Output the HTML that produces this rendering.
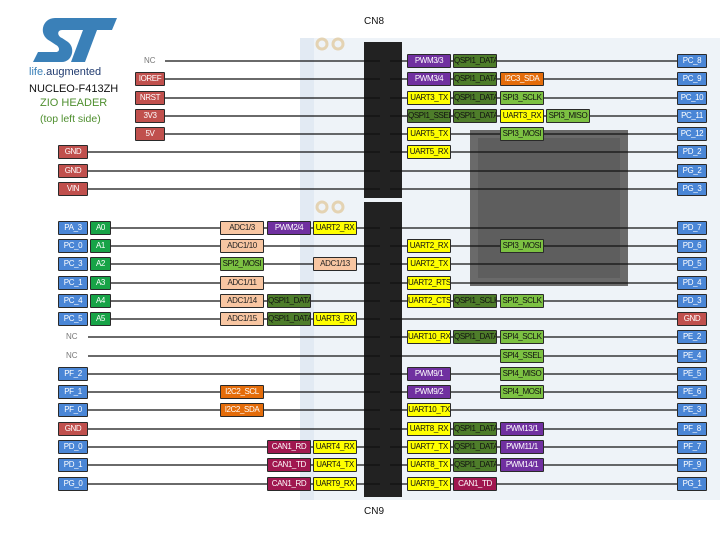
<!DOCTYPE html>
<html><head><meta charset="utf-8"><style>
body{margin:0;width:720px;height:540px;background:#fff;position:relative;overflow:hidden;font-family:"Liberation Sans",sans-serif}
.b{position:absolute;height:12px;border:1px solid #2a2a2a;font:8px/12px "Liberation Sans",sans-serif;letter-spacing:-0.4px;text-align:center;color:#fff;white-space:nowrap;overflow:hidden;border-radius:1px}
.bl{background:#4a86d6}.rd{background:#c0504d}.pu{background:#7030a0}.dg{background:#4e7d2a;color:#111}.lg{background:#7cc142;color:#111}
.ye{background:#ffff00;color:#111}.or{background:#e46c0a}.pe{background:#f8c6a2;color:#222}.ma{background:#a0174f}.gr{background:#17a347}
.t{position:absolute;font-size:8px;color:#777}
.p{width:28px}.w{width:42px}.a{width:19px}
</style></head><body>
<svg width="720" height="540" style="position:absolute;left:0;top:0">
<rect x="300" y="38" width="420" height="462" fill="#eef3f8"/>
<rect x="300" y="38" width="14" height="462" fill="#e2eaf3"/>
<g fill="none" stroke="#e4d3b3" stroke-width="3">
<circle cx="322" cy="44" r="5"/><circle cx="338" cy="44" r="5"/>
<circle cx="322" cy="207" r="5"/><circle cx="338" cy="207" r="5"/>
</g>
<rect x="470" y="130" width="158" height="156" fill="#6a6a6a"/>
<rect x="478" y="138" width="142" height="140" fill="#5e5e5e"/>
<rect x="364" y="42" width="38" height="156" fill="#222"/>
<rect x="364" y="202" width="38" height="295" fill="#222"/>
<g stroke="#111" stroke-width="1.3">
<line x1="165" y1="61" x2="380" y2="61"/><line x1="164" y1="79" x2="380" y2="79"/><line x1="164" y1="98" x2="380" y2="98"/><line x1="164" y1="116" x2="380" y2="116"/><line x1="164" y1="134" x2="380" y2="134"/>
<line x1="87" y1="152" x2="380" y2="152"/><line x1="87" y1="171" x2="380" y2="171"/><line x1="87" y1="189" x2="380" y2="189"/>
<line x1="111" y1="228" x2="380" y2="228"/><line x1="111" y1="246" x2="380" y2="246"/><line x1="111" y1="264" x2="380" y2="264"/><line x1="111" y1="283" x2="380" y2="283"/><line x1="111" y1="301" x2="380" y2="301"/><line x1="111" y1="319" x2="380" y2="319"/>
<line x1="88" y1="337" x2="380" y2="337"/><line x1="88" y1="356" x2="380" y2="356"/>
<line x1="87" y1="374" x2="380" y2="374"/><line x1="87" y1="392" x2="380" y2="392"/><line x1="87" y1="410" x2="380" y2="410"/><line x1="87" y1="429" x2="380" y2="429"/><line x1="87" y1="447" x2="380" y2="447"/><line x1="87" y1="465" x2="380" y2="465"/><line x1="87" y1="484" x2="380" y2="484"/>
<line x1="390" y1="61" x2="677" y2="61"/><line x1="390" y1="79" x2="677" y2="79"/><line x1="390" y1="98" x2="677" y2="98"/><line x1="390" y1="116" x2="677" y2="116"/><line x1="390" y1="134" x2="677" y2="134"/><line x1="390" y1="152" x2="677" y2="152"/><line x1="390" y1="171" x2="677" y2="171"/><line x1="390" y1="189" x2="677" y2="189"/>
<line x1="390" y1="228" x2="677" y2="228"/><line x1="390" y1="246" x2="677" y2="246"/><line x1="390" y1="264" x2="677" y2="264"/><line x1="390" y1="283" x2="677" y2="283"/><line x1="390" y1="301" x2="677" y2="301"/><line x1="390" y1="319" x2="677" y2="319"/><line x1="390" y1="337" x2="677" y2="337"/><line x1="390" y1="356" x2="677" y2="356"/><line x1="390" y1="374" x2="677" y2="374"/><line x1="390" y1="392" x2="677" y2="392"/><line x1="390" y1="410" x2="677" y2="410"/><line x1="390" y1="429" x2="677" y2="429"/><line x1="390" y1="447" x2="677" y2="447"/><line x1="390" y1="465" x2="677" y2="465"/><line x1="390" y1="484" x2="677" y2="484"/>
</g>
<path d="M55 18 L117 18 L112 30 L97 30 L85 62 L71 62 L83 30 L62 30 C57 30 57 36 62 38 L68 42 C76 48 72 62 62 62 L33 62 L38 52 L56 52 C60 52 60 47 56 45 L50 41 C38 35 42 18 55 18 Z" fill="#3a80b8"/>
</svg>
<div style="position:absolute;left:29px;top:66px;font-size:11px;color:#3a80b8">life.<span style="color:#1f3a6e">augmented</span></div>
<div style="position:absolute;left:29px;top:83px;font-size:11px;color:#111">NUCLEO-F413ZH</div>
<div style="position:absolute;left:40px;top:97px;font-size:11px;color:#4f8f2f">ZIO HEADER</div>
<div style="position:absolute;left:40px;top:113px;font-size:10.5px;color:#4f8f2f">(top left side)</div>
<div style="position:absolute;left:364px;top:16px;font-size:10px;color:#111">CN8</div>
<div style="position:absolute;left:364px;top:506px;font-size:10px;color:#111">CN9</div>

<div class="t" style="left:144px;top:56px">NC</div>
<div class="b rd p" style="left:135px;top:72px">IOREF</div>
<div class="b rd p" style="left:135px;top:91px">NRST</div>
<div class="b rd p" style="left:135px;top:109px">3V3</div>
<div class="b rd p" style="left:135px;top:127px">5V</div>
<div class="b rd p" style="left:58px;top:145px">GND</div>
<div class="b rd p" style="left:58px;top:164px">GND</div>
<div class="b rd p" style="left:58px;top:182px">VIN</div>

<div class="b pu w" style="left:407px;top:54px">PWM3/3</div><div class="b dg w" style="left:453px;top:54px">QSPI1_DATA</div><div class="b bl p" style="left:677px;top:54px">PC_8</div>
<div class="b pu w" style="left:407px;top:72px">PWM3/4</div><div class="b dg w" style="left:453px;top:72px">QSPI1_DATA</div><div class="b or w" style="left:500px;top:72px">I2C3_SDA</div><div class="b bl p" style="left:677px;top:72px">PC_9</div>
<div class="b ye w" style="left:407px;top:91px">UART3_TX</div><div class="b dg w" style="left:453px;top:91px">QSPI1_DATA</div><div class="b lg w" style="left:500px;top:91px">SPI3_SCLK</div><div class="b bl p" style="left:677px;top:91px">PC_10</div>
<div class="b dg w" style="left:407px;top:109px">QSPI1_SSEL</div><div class="b dg w" style="left:453px;top:109px">QSPI1_DATA</div><div class="b ye w" style="left:500px;top:109px">UART3_RX</div><div class="b lg w" style="left:546px;top:109px">SPI3_MISO</div><div class="b bl p" style="left:677px;top:109px">PC_11</div>
<div class="b ye w" style="left:407px;top:127px">UART5_TX</div><div class="b lg w" style="left:500px;top:127px">SPI3_MOSI</div><div class="b bl p" style="left:677px;top:127px">PC_12</div>
<div class="b ye w" style="left:407px;top:145px">UART5_RX</div><div class="b bl p" style="left:677px;top:145px">PD_2</div>
<div class="b bl p" style="left:677px;top:164px">PG_2</div>
<div class="b bl p" style="left:677px;top:182px">PG_3</div>

<div class="b bl p" style="left:58px;top:221px">PA_3</div><div class="b gr a" style="left:90px;top:221px">A0</div>
<div class="b bl p" style="left:58px;top:239px">PC_0</div><div class="b gr a" style="left:90px;top:239px">A1</div>
<div class="b bl p" style="left:58px;top:257px">PC_3</div><div class="b gr a" style="left:90px;top:257px">A2</div>
<div class="b bl p" style="left:58px;top:276px">PC_1</div><div class="b gr a" style="left:90px;top:276px">A3</div>
<div class="b bl p" style="left:58px;top:294px">PC_4</div><div class="b gr a" style="left:90px;top:294px">A4</div>
<div class="b bl p" style="left:58px;top:312px">PC_5</div><div class="b gr a" style="left:90px;top:312px">A5</div>
<div class="t" style="left:66px;top:332px">NC</div>
<div class="t" style="left:66px;top:351px">NC</div>
<div class="b bl p" style="left:58px;top:367px">PF_2</div>
<div class="b bl p" style="left:58px;top:385px">PF_1</div>
<div class="b bl p" style="left:58px;top:403px">PF_0</div>
<div class="b rd p" style="left:58px;top:422px">GND</div>
<div class="b bl p" style="left:58px;top:440px">PD_0</div>
<div class="b bl p" style="left:58px;top:458px">PD_1</div>
<div class="b bl p" style="left:58px;top:477px">PG_0</div>

<div class="b pe w" style="left:220px;top:221px">ADC1/3</div><div class="b pu w" style="left:267px;top:221px">PWM2/4</div><div class="b ye w" style="left:313px;top:221px">UART2_RX</div>
<div class="b pe w" style="left:220px;top:239px">ADC1/10</div>
<div class="b lg w" style="left:220px;top:257px">SPI2_MOSI</div><div class="b pe w" style="left:313px;top:257px">ADC1/13</div>
<div class="b pe w" style="left:220px;top:276px">ADC1/11</div>
<div class="b pe w" style="left:220px;top:294px">ADC1/14</div><div class="b dg w" style="left:267px;top:294px">QSPI1_DATA</div>
<div class="b pe w" style="left:220px;top:312px">ADC1/15</div><div class="b dg w" style="left:267px;top:312px">QSPI1_DATA</div><div class="b ye w" style="left:313px;top:312px">UART3_RX</div>
<div class="b or w" style="left:220px;top:385px">I2C2_SCL</div>
<div class="b or w" style="left:220px;top:403px">I2C2_SDA</div>
<div class="b ma w" style="left:267px;top:440px">CAN1_RD</div><div class="b ye w" style="left:313px;top:440px">UART4_RX</div>
<div class="b ma w" style="left:267px;top:458px">CAN1_TD</div><div class="b ye w" style="left:313px;top:458px">UART4_TX</div>
<div class="b ma w" style="left:267px;top:477px">CAN1_RD</div><div class="b ye w" style="left:313px;top:477px">UART9_RX</div>

<div class="b bl p" style="left:677px;top:221px">PD_7</div>
<div class="b ye w" style="left:407px;top:239px">UART2_RX</div><div class="b lg w" style="left:500px;top:239px">SPI3_MOSI</div><div class="b bl p" style="left:677px;top:239px">PD_6</div>
<div class="b ye w" style="left:407px;top:257px">UART2_TX</div><div class="b bl p" style="left:677px;top:257px">PD_5</div>
<div class="b ye w" style="left:407px;top:276px">UART2_RTS</div><div class="b bl p" style="left:677px;top:276px">PD_4</div>
<div class="b ye w" style="left:407px;top:294px">UART2_CTS</div><div class="b dg w" style="left:453px;top:294px">QSPI1_SCLK</div><div class="b lg w" style="left:500px;top:294px">SPI2_SCLK</div><div class="b bl p" style="left:677px;top:294px">PD_3</div>
<div class="b rd p" style="left:677px;top:312px">GND</div>
<div class="b ye w" style="left:407px;top:330px">UART10_RX</div><div class="b dg w" style="left:453px;top:330px">QSPI1_DATA</div><div class="b lg w" style="left:500px;top:330px">SPI4_SCLK</div><div class="b bl p" style="left:677px;top:330px">PE_2</div>
<div class="b lg w" style="left:500px;top:349px">SPI4_SSEL</div><div class="b bl p" style="left:677px;top:349px">PE_4</div>
<div class="b pu w" style="left:407px;top:367px">PWM9/1</div><div class="b lg w" style="left:500px;top:367px">SPI4_MISO</div><div class="b bl p" style="left:677px;top:367px">PE_5</div>
<div class="b pu w" style="left:407px;top:385px">PWM9/2</div><div class="b lg w" style="left:500px;top:385px">SPI4_MOSI</div><div class="b bl p" style="left:677px;top:385px">PE_6</div>
<div class="b ye w" style="left:407px;top:403px">UART10_TX</div><div class="b bl p" style="left:677px;top:403px">PE_3</div>
<div class="b ye w" style="left:407px;top:422px">UART8_RX</div><div class="b dg w" style="left:453px;top:422px">QSPI1_DATA</div><div class="b pu w" style="left:500px;top:422px">PWM13/1</div><div class="b bl p" style="left:677px;top:422px">PF_8</div>
<div class="b ye w" style="left:407px;top:440px">UART7_TX</div><div class="b dg w" style="left:453px;top:440px">QSPI1_DATA</div><div class="b pu w" style="left:500px;top:440px">PWM11/1</div><div class="b bl p" style="left:677px;top:440px">PF_7</div>
<div class="b ye w" style="left:407px;top:458px">UART8_TX</div><div class="b dg w" style="left:453px;top:458px">QSPI1_DATA</div><div class="b pu w" style="left:500px;top:458px">PWM14/1</div><div class="b bl p" style="left:677px;top:458px">PF_9</div>
<div class="b ye w" style="left:407px;top:477px">UART9_TX</div><div class="b ma w" style="left:453px;top:477px">CAN1_TD</div><div class="b bl p" style="left:677px;top:477px">PG_1</div>
</body></html>
